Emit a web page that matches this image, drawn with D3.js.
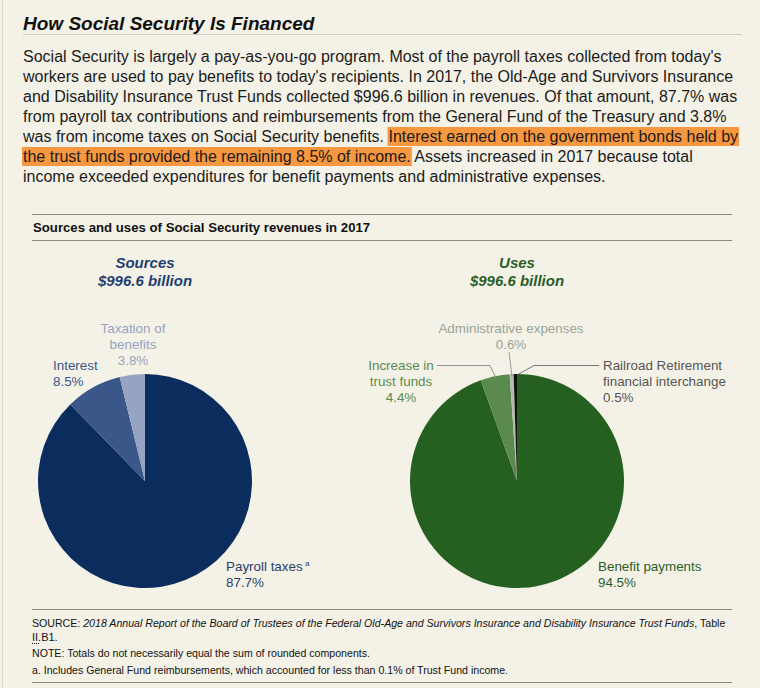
<!DOCTYPE html>
<html>
<head>
<meta charset="utf-8">
<script src="https://d3js.org/d3.v7.min.js"></script>
<title>How Social Security Is Financed</title>
<style>
body { margin: 0; background: #f4f2e7; }
svg text { font-family: Arial, "Liberation Sans", sans-serif; }
</style>
</head>
<body>
<script>

// paragraph lines: [plain text, highlighted text, plain text]
var paraLines = [
  ["Social Security is largely a pay-as-you-go program. Most of the payroll taxes collected from today's", "", ""],
  ["workers are used to pay benefits to today's recipients. In 2017, the Old-Age and Survivors Insurance", "", ""],
  ["and Disability Insurance Trust Funds collected $996.6 billion in revenues. Of that amount, 87.7% was", "", ""],
  ["from payroll tax contributions and reimbursements from the General Fund of the Treasury and 3.8%", "", ""],
  ["was from income taxes on Social Security benefits. ", "Interest earned on the government bonds held by", ""],
  ["", "the trust funds provided the remaining 8.5% of income.", " Assets increased in 2017 because total"],
  ["income exceeded expenditures for benefit payments and administrative expenses.", "", ""]
];

var sourceNames = ["Payroll taxes", "Interest", "Taxation of benefits"];
var sourceValues = [87.7, 8.5, 3.8];
var sourceColors = ["#0b2d5d", "#3b5688", "#97a3c2"];

var useNames = ["Benefit payments", "Increase in trust funds", "Administrative expenses", "Railroad Retirement financial interchange"];
var useValues = [94.5, 4.4, 0.6, 0.5];
var useColors = ["#256020", "#5b8a4f", "#b3bdad", "#111111"];

var width = 760,
    height = 688;

var svg = d3.select("body")
  .append("svg")
  .attr("width", width)
  .attr("height", height);

// left border of the page box
svg.append("line")
  .attr("x1", 2.5).attr("x2", 2.5).attr("y1", 0).attr("y2", height)
  .attr("stroke", "#dcd9cc");

// heading
svg.append("text")
  .attr("x", 23).attr("y", 30)
  .attr("font-size", 19).attr("font-weight", "bold").attr("font-style", "italic")
  .attr("fill", "#111")
  .text("How Social Security Is Financed");
svg.append("line")
  .attr("x1", 23).attr("x2", 742).attr("y1", 34.5).attr("y2", 34.5)
  .attr("stroke", "#cfcdc4");

// paragraph
var hlLayer = svg.append("g");
var para = svg.append("g");
paraLines.forEach(function(l, i) {
  var y = 62 + i * 20;
  var t = para.append("text")
    .attr("x", 23).attr("y", y)
    .attr("font-size", 16).attr("fill", "#1b1b1b");
  var parts = l.map(function(s, j) {
    return t.append("tspan").attr("xml:space", "preserve").text(s);
  });
  if (l[1] != "") {
    var x0 = 23 + parts[0].node().getComputedTextLength();
    var w = parts[1].node().getComputedTextLength();
    hlLayer.append("rect")
      .attr("x", x0 - 1).attr("y", y - 15)
      .attr("width", w + 2).attr("height", 19)
      .attr("fill", "#f7973f");
  }
});

// chart frame
svg.append("line").attr("x1", 32).attr("x2", 732).attr("y1", 214.5).attr("y2", 214.5).attr("stroke", "#8c8a7c");
svg.append("line").attr("x1", 32).attr("x2", 732).attr("y1", 240.5).attr("y2", 240.5).attr("stroke", "#8c8a7c");
svg.append("text")
  .attr("x", 33).attr("y", 232)
  .attr("font-size", 13.2).attr("font-weight", "bold").attr("fill", "#111")
  .text("Sources and uses of Social Security revenues in 2017");

function pieTitle(cx, color, name) {
  var t = svg.append("text")
    .attr("text-anchor", "middle")
    .attr("font-size", 15).attr("font-weight", "bold").attr("font-style", "italic")
    .attr("fill", color);
  t.append("tspan").attr("x", cx).attr("y", 268).text(name);
  t.append("tspan").attr("x", cx).attr("y", 286).text("$996.6 billion");
}
pieTitle(145, "#1f3e6e", "Sources");
pieTitle(517, "#2a5e27", "Uses");

var pie = d3.pie().sort(null);
var arc = d3.arc().innerRadius(0).outerRadius(107);

function drawPie(cx, values, colors) {
  svg.append("g")
    .attr("transform", "translate(" + cx + ",481)")
    .selectAll("path")
    .data(pie(values))
    .enter()
    .append("path")
    .attr("d", arc)
    .attr("fill", function(d, i) { return colors[i]; });
}
drawPie(145, sourceValues, sourceColors);
drawPie(517, useValues, useColors);

function label(x, y, anchor, color, lines) {
  var t = svg.append("text")
    .attr("text-anchor", anchor)
    .attr("font-size", 13.4).attr("fill", color);
  lines.forEach(function(s, i) {
    t.append("tspan").attr("x", x).attr("y", y + i * 16).text(s);
  });
  return t;
}

// source labels
label(133, 333, "middle", "#97a3c2", ["Taxation of", "benefits", sourceValues[2] + "%"]);
label(53, 370, "start", "#3b5688", ["Interest", sourceValues[1] + "%"]);
var pt = label(226, 571, "start", "#1f3e6e", ["Payroll taxes", sourceValues[0] + "%"]);
pt.select("tspan").append("tspan").attr("font-size", 8).attr("dy", -5).text(" a");

// use labels
label(401, 370, "middle", "#5b8a4f", ["Increase in", "trust funds", useValues[1] + "%"]);
label(511, 333, "middle", "#9aa497", ["Administrative expenses", useValues[2].toFixed(1) + "%"]);
label(603, 370, "start", "#555555", ["Railroad Retirement", "financial interchange", useValues[3].toFixed(1) + "%"]);
label(598, 571, "start", "#2a5e27", ["Benefit payments", useValues[0] + "%"]);

// leader lines
var leader = d3.line();
svg.append("path").attr("d", leader([[437, 365.5], [490, 365.5], [495, 376]]))
  .attr("fill", "none").attr("stroke", "#777").attr("stroke-width", 0.8);
svg.append("path").attr("d", leader([[509, 352], [512, 376]]))
  .attr("fill", "none").attr("stroke", "#888").attr("stroke-width", 0.8);
svg.append("path").attr("d", leader([[599, 365.5], [534, 365.5], [517, 375]]))
  .attr("fill", "none").attr("stroke", "#555").attr("stroke-width", 0.8);

// footer
svg.append("line").attr("x1", 32).attr("x2", 732).attr("y1", 609.5).attr("y2", 609.5).attr("stroke", "#8c8a7c");
svg.append("line").attr("x1", 32).attr("x2", 732).attr("y1", 682.5).attr("y2", 682.5).attr("stroke", "#8c8a7c");

var src = svg.append("text").attr("x", 32).attr("y", 627).attr("font-size", 10.6).attr("fill", "#111");
src.append("tspan").text("SOURCE: ");
src.append("tspan").attr("font-style", "italic").text("2018 Annual Report of the Board of Trustees of the Federal Old-Age and Survivors Insurance and Disability Insurance Trust Funds");
src.append("tspan").text(", Table");
svg.append("text").attr("x", 32).attr("y", 641).attr("font-size", 11).attr("fill", "#111").text("II.B1.");
svg.append("line").attr("x1", 32).attr("x2", 39).attr("y1", 643.5).attr("y2", 643.5)
  .attr("stroke", "#111").attr("stroke-dasharray", "1,1");
svg.append("text").attr("x", 32).attr("y", 657).attr("font-size", 11).attr("fill", "#111")
  .attr("textLength", 338).attr("lengthAdjust", "spacingAndGlyphs")
  .text("NOTE: Totals do not necessarily equal the sum of rounded components.");
svg.append("text").attr("x", 32).attr("y", 674).attr("font-size", 11).attr("fill", "#111")
  .attr("textLength", 476).attr("lengthAdjust", "spacingAndGlyphs")
  .text("a. Includes General Fund reimbursements, which accounted for less than 0.1% of Trust Fund income.");

</script>
</body>
</html>
